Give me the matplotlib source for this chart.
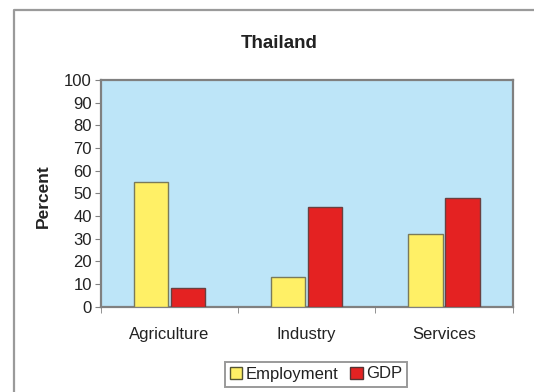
import matplotlib
matplotlib.use("Agg")
import matplotlib.pyplot as plt
from matplotlib.lines import Line2D
from matplotlib.patches import Patch
import numpy as np

plt.rcParams['font.family'] = ['Liberation Sans', 'DejaVu Sans']

categories = ["Agriculture", "Industry", "Services"]
employment = [55, 13, 32]
gdp = [8, 44, 48]
series_names = ["Employment", "GDP"]
y_ticks = [0, 10, 20, 30, 40, 50, 60, 70, 80, 90, 100]

fig = plt.figure(figsize=(5.34, 3.92), dpi=100)
fig.patch.set_facecolor("white")

# outer chart frame (top and left edges)
fig.add_artist(Line2D([0.0262, 0.0262, 1.0], [0.0, 0.9745, 0.9745],
                      transform=fig.transFigure, color="#9a9a9a", lw=1.6))

ax = fig.add_axes([0.1888, 0.2181, 0.7712, 0.5778])
ax.set_facecolor("#bde5f8")

x = np.arange(len(categories))
w = 0.25
off = 0.135
ax.bar(x - off, employment, width=w, color="#fff066", edgecolor="#7a7a5a", lw=1.0,
       label=series_names[0], zorder=3)
ax.bar(x + off, gdp, width=w, color="#e42222", edgecolor="#6a4040", lw=1.0,
       label=series_names[1], zorder=3)

ax.set_xlim(-0.5, len(categories) - 0.5)
ax.set_ylim(0, 100)
ax.set_yticks(y_ticks)
ax.set_xticks(x)
ax.set_xticklabels(categories)
ax.set_xticks(np.arange(len(categories) + 1) - 0.5, minor=True)
ax.tick_params(axis="x", which="major", length=0, pad=15, labelsize=12, labelcolor="#222222")
ax.tick_params(axis="x", which="minor", length=4, color="#808080", direction="out")
ax.tick_params(axis="y", length=4, color="#808080", direction="out", labelsize=12,
               labelcolor="#222222", pad=2.5)

for s in ax.spines.values():
    s.set_color("#808080")
    s.set_linewidth(1.6)

fig.text(0.523, 1 - 43 / 392, "Thailand", ha="center", va="center",
         fontsize=13.5, fontweight="bold", color="#222222")
fig.text(43 / 534, 1 - 196 / 392, "Percent", ha="center", va="center",
         rotation=90, fontsize=12.5, fontweight="bold", color="#222222")

handles = [Patch(facecolor="#fff066", edgecolor="#555533", lw=1.0),
           Patch(facecolor="#e42222", edgecolor="#553333", lw=1.0)]
leg = fig.legend(handles, series_names, loc="center", bbox_to_anchor=(316 / 534, 1 - 374 / 392),
                 ncol=2, frameon=True, fancybox=False, fontsize=12, handlelength=0.75,
                 handleheight=0.75, handletextpad=0.2, columnspacing=0.7,
                 borderpad=0.3, borderaxespad=0)
leg.get_frame().set_edgecolor("#808080")
leg.get_frame().set_linewidth(1.4)
for t in leg.get_texts():
    t.set_color("#222222")

fig.savefig("out.png", dpi=100)
